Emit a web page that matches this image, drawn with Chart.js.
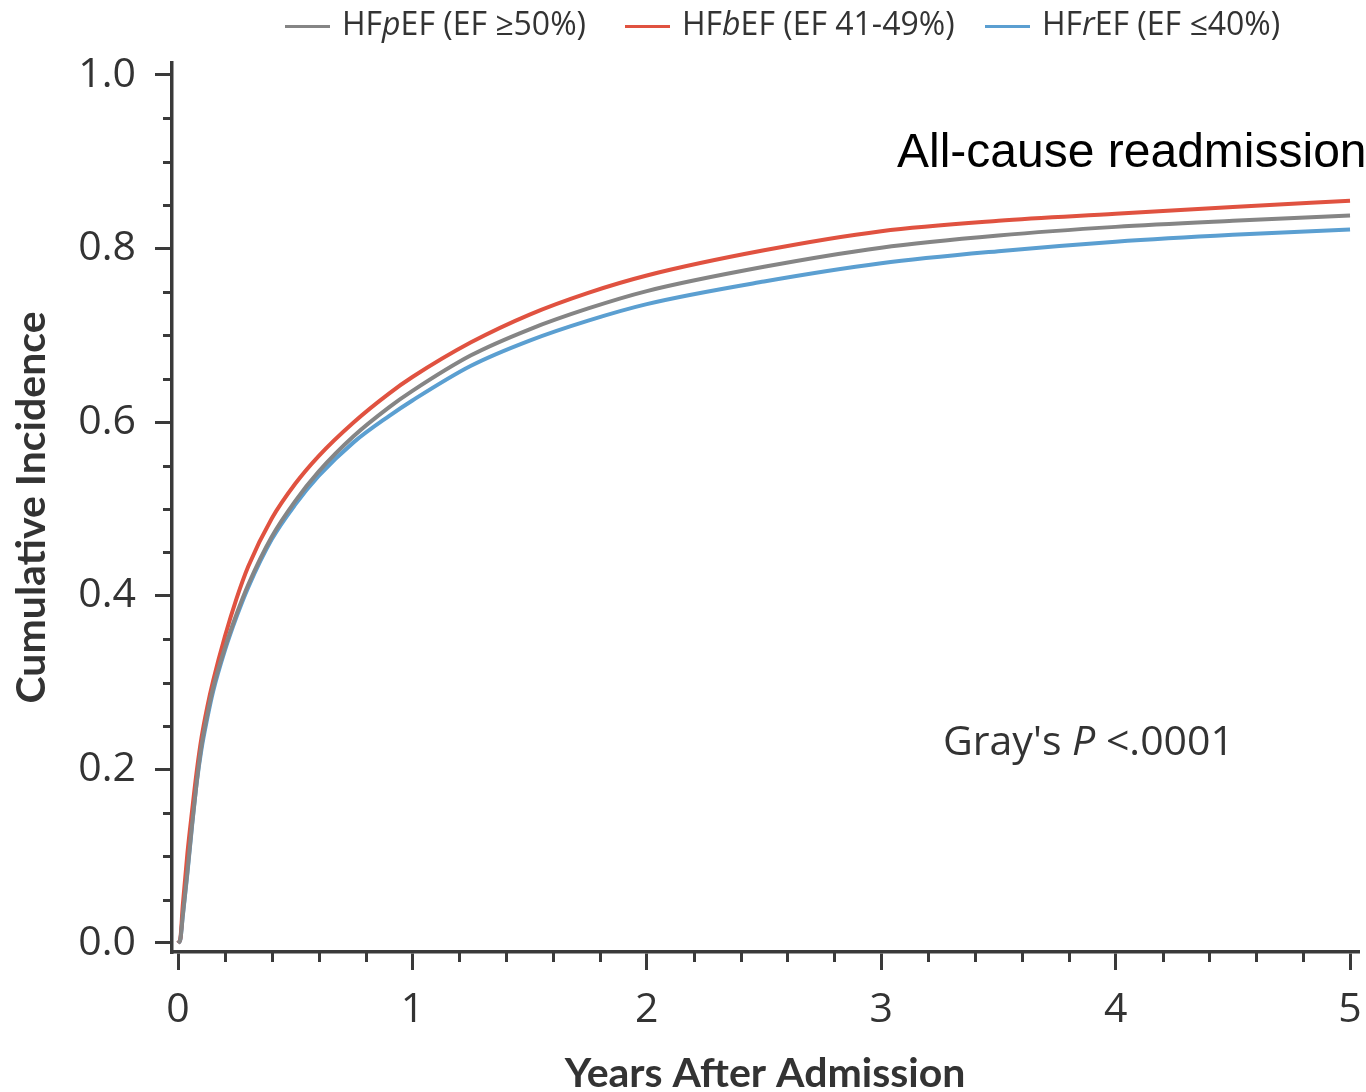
<!DOCTYPE html>
<html>
<head>
<meta charset="utf-8">
<script src="https://cdn.jsdelivr.net/npm/chart.js@4.4.1/dist/chart.umd.min.js"></script>
<style>
  html, body { margin: 0; padding: 0; background: #fff; }
  #wrap { position: relative; width: 1366px; height: 1092px; overflow: hidden; }
  #chart { position: absolute; left: 0; top: 0; }
  .lg { position: absolute; top: 0; height: 46px; line-height: 46px; font-family: "Open Sans"; font-size: 32px; color: #333; white-space: nowrap; }
  .lg .sw { display: inline-block; width: 45px; height: 3px; vertical-align: middle; margin-right: 12px; }
  .note { position: absolute; white-space: nowrap; line-height: 1; }
</style>
</head>
<body>
<div id="wrap">
  <canvas id="chart" width="1366" height="1092"></canvas>
  <div class="lg" style="left:285px"><span class="sw" style="background:#858585"></span>HF<i>p</i>EF (EF ≥50%)</div>
  <div class="lg" style="left:625px"><span class="sw" style="background:#e05240"></span>HF<i>b</i>EF (EF 41-49%)</div>
  <div class="lg" style="left:985px"><span class="sw" style="background:#5b9fd1"></span>HF<i>r</i>EF (EF ≤40%)</div>
  <div class="note" style="left:897px; top:127px; font-family:'Liberation Sans'; font-size:48px; color:#000">All-cause readmission</div>
  <div class="note" style="left:943px; top:719px; font-family:'Open Sans'; font-size:41px; color:#333">Gray's <i>P</i> &lt;.0001</div>
</div>
<script>
// 시간축 (년)
var years = [0, 0.01, 0.02, 0.04, 0.06, 0.08, 0.1, 0.125, 0.15, 0.2, 0.25, 0.3, 0.4, 0.5, 0.6, 0.75, 0.9, 1.0, 1.25, 1.5, 1.75, 2.0, 2.5, 3.0, 3.5, 4.0, 4.5, 5.0];

// 누적 발생률
var hfpef = [0, 0.004, 0.031, 0.082, 0.137, 0.186, 0.227, 0.263, 0.294, 0.340, 0.379, 0.413, 0.468, 0.509, 0.543, 0.584, 0.617, 0.636, 0.677, 0.707, 0.731, 0.751, 0.779, 0.801, 0.815, 0.825, 0.832, 0.838];
var hfbef = [0, 0.005, 0.042, 0.103, 0.152, 0.198, 0.236, 0.272, 0.302, 0.353, 0.397, 0.434, 0.489, 0.529, 0.561, 0.600, 0.633, 0.652, 0.692, 0.724, 0.749, 0.769, 0.798, 0.820, 0.832, 0.840, 0.848, 0.855];
var hfref = [0, 0.004, 0.030, 0.080, 0.135, 0.185, 0.223, 0.259, 0.290, 0.337, 0.376, 0.410, 0.465, 0.505, 0.538, 0.577, 0.607, 0.625, 0.665, 0.694, 0.717, 0.736, 0.762, 0.783, 0.797, 0.808, 0.816, 0.822];

// 눈금
var xTicks = [0, 1, 2, 3, 4, 5];
var xMinorTicks = [0.2, 0.4, 0.6, 0.8, 1.2, 1.4, 1.6, 1.8, 2.2, 2.4, 2.6, 2.8, 3.2, 3.4, 3.6, 3.8, 4.2, 4.4, 4.6, 4.8];
var yTicks = [0, 0.2, 0.4, 0.6, 0.8, 1.0];
var yMinorTicks = [0.05, 0.1, 0.15, 0.25, 0.3, 0.35, 0.45, 0.5, 0.55, 0.65, 0.7, 0.75, 0.85, 0.9, 0.95];

var AXIS_COLOR = '#3a3a3a';

function toPoints(values) {
    var pts = [];
    for (var i = 0; i < years.length; i++) {
        pts.push({x: years[i], y: values[i]});
    }
    return pts;
}

/* 보조 눈금 출력 */
var minorTickPlugin = {
    id: 'minorTicks',
    afterDraw: function (chart) {
        var ctx = chart.ctx;
        var xs = chart.scales.x;
        var ys = chart.scales.y;
        ctx.save();
        ctx.strokeStyle = AXIS_COLOR;
        ctx.lineWidth = 3;
        ctx.beginPath();
        for (var i = 0; i < yMinorTicks.length; i++) {
            var py = Math.round(ys.getPixelForValue(yMinorTicks[i])) + 0.5;
            ctx.moveTo(ys.right - 9, py);
            ctx.lineTo(ys.right, py);
        }
        for (var j = 0; j < xMinorTicks.length; j++) {
            var px = Math.round(xs.getPixelForValue(xMinorTicks[j])) + 0.5;
            ctx.moveTo(px, xs.top);
            ctx.lineTo(px, xs.top + 10);
        }
        ctx.stroke();
        ctx.restore();
    }
};

var tickFont = {family: 'Open Sans', size: 41};
var titleFont = {family: 'Lato', size: 41, weight: 'bold', lineHeight: 0.8};

new Chart(document.getElementById('chart'), {
    type: 'line',
    data: {
        datasets: [{
            label: 'HFpEF (EF ≥50%)',
            data: toPoints(hfpef),
            borderColor: '#858585',
            borderWidth: 4
        }, {
            label: 'HFbEF (EF 41-49%)',
            data: toPoints(hfbef),
            borderColor: '#e05240',
            borderWidth: 4
        }, {
            label: 'HFrEF (EF ≤40%)',
            data: toPoints(hfref),
            borderColor: '#5b9fd1',
            borderWidth: 4
        }]
    },
    options: {
        responsive: false,
        devicePixelRatio: 1,
        animation: false,
        layout: {padding: {left: 0, top: 63, right: 8, bottom: 0}},
        elements: {
            point: {radius: 0},
            line: {cubicInterpolationMode: 'monotone'}
        },
        plugins: {
            legend: {display: false},
            tooltip: {enabled: false}
        },
        scales: {
            x: {
                type: 'linear',
                min: -0.0256,
                max: 5.034,
                afterBuildTicks: function (s) {
                    s.ticks = xTicks.map(function (v) { return {value: v}; });
                },
                afterFit: function (s) {
                    s.height = 140;
                    s.paddingLeft = 0;
                    s.paddingRight = 0;
                },
                grid: {drawOnChartArea: false, drawTicks: true, tickLength: 18, color: AXIS_COLOR, lineWidth: 3},
                border: {color: AXIS_COLOR, width: 3.5},
                ticks: {
                    font: tickFont,
                    color: '#333',
                    padding: 16,
                    maxRotation: 0,
                    callback: function (v) { return v.toFixed(0); }
                },
                title: {display: true, text: 'Years After Admission', font: titleFont, color: '#333', padding: {top: 0, bottom: 2}}
            },
            y: {
                type: 'linear',
                min: -0.0104,
                max: 1.0138,
                afterBuildTicks: function (s) {
                    s.ticks = yTicks.map(function (v) { return {value: v}; });
                },
                afterFit: function (s) {
                    s.width = 172;
                    s.paddingTop = 0;
                    s.paddingBottom = 0;
                },
                grid: {drawOnChartArea: false, drawTicks: true, tickLength: 17, color: AXIS_COLOR, lineWidth: 3},
                border: {color: AXIS_COLOR, width: 3.5},
                ticks: {
                    font: tickFont,
                    color: '#333',
                    padding: 19,
                    callback: function (v) { return v.toFixed(1); }
                },
                title: {display: true, text: 'Cumulative Incidence', font: titleFont, color: '#333', padding: {top: 15, bottom: 0}}
            }
        }
    },
    plugins: [minorTickPlugin]
});
</script>
</body>
</html>
